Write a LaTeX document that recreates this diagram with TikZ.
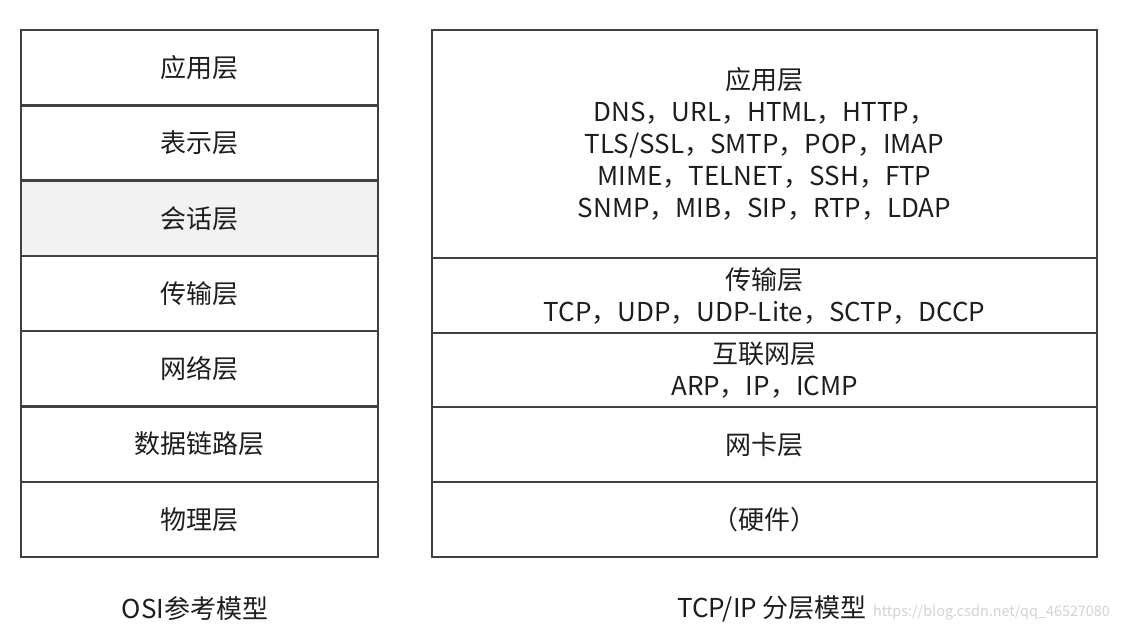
\documentclass[tikz,border=0pt]{standalone}
\usepackage{fontspec}
\setmainfont{Noto Sans CJK SC}
\usetikzlibrary{positioning}

\definecolor{edgegray}{HTML}{404040}
\definecolor{sessgray}{HTML}{F2F2F2}
\definecolor{inkgray}{HTML}{1E1E1E}

\tikzset{
  layer/.style={draw=edgegray, line width=1.25pt, outer sep=0pt, inner sep=0pt,
    align=center, text=inkgray, font=\fontsize{13}{16}\selectfont},
  osilayer/.style={layer, minimum width=178.5pt, minimum height=37.65pt},
  tcplayer/.style={layer, minimum width=332.5pt},
  modelname/.style={text=inkgray, font=\fontsize{13}{16}\selectfont},
  watermark/.style={text=gray!35, font=\fontsize{7.2}{8}\selectfont}
}

\begin{document}
\begin{tikzpicture}[x=0.5pt, y=-0.5pt]
	
	\useasboundingbox (0,0) rectangle (1122,634);
	
	% OSI, left column
	\node[osilayer, anchor=north west] (osiApp) at (21,30) {应用层};
	\node[osilayer, below=0pt of osiApp] (osiPres) {表示层};
	\node[osilayer, below=0pt of osiPres, fill=sessgray] (osiSess) {会话层};
	\node[osilayer, below=0pt of osiSess] (osiTrans) {传输层};
	\node[osilayer, below=0pt of osiTrans] (osiNet) {网络层};
	\node[osilayer, below=0pt of osiNet] (osiLink) {数据链路层};
	\node[osilayer, below=0pt of osiLink] (osiPhys) {物理层};
	
	\node[modelname] (osiName) at (195,609) {OSI参考模型};
	
	% TCP/IP, right column
	\node[tcplayer, minimum height=114pt, anchor=north west] (tcpApp) at (432,30)
		{应用层\\DNS，URL，HTML，HTTP，\\TLS/SSL，SMTP，POP，IMAP\\MIME，TELNET，SSH，FTP\\SNMP，MIB，SIP，RTP，LDAP};
	\node[tcplayer, minimum height=37.5pt, below=0pt of tcpApp] (tcpTrans)
		{传输层\\TCP，UDP，UDP-Lite，SCTP，DCCP};
	\node[tcplayer, minimum height=37pt, below=0pt of tcpTrans] (tcpNet)
		{互联网层\\ARP，IP，ICMP};
	\node[tcplayer, minimum height=37.5pt, below=0pt of tcpNet] (tcpCard) {网卡层};
	\node[tcplayer, minimum height=37.5pt, below=0pt of tcpCard] (tcpHw) {（硬件）};
	
	\node[modelname] (tcpName) at (772,609) {TCP/IP 分层模型};
	\node[watermark, anchor=west] (blogMark) at (866,613) {https://blog.csdn.net/qq\_46527080};
	
\end{tikzpicture}
\end{document}
